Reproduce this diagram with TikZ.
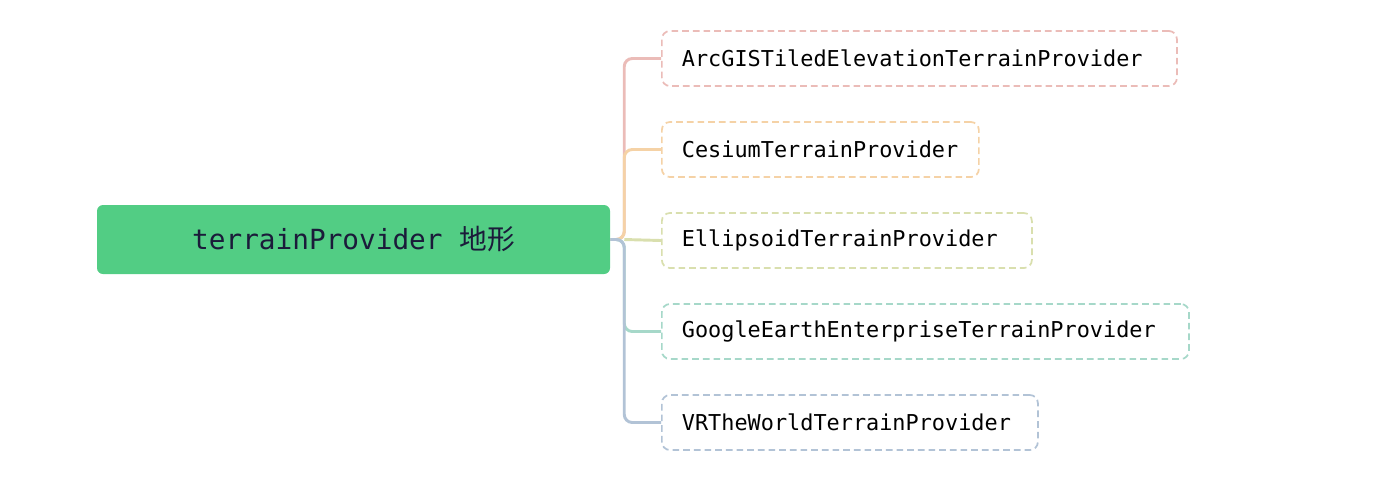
\documentclass[tikz,border=0pt]{standalone}
\usepackage{fontspec}
\setmonofont{DejaVu Sans Mono}
\newfontfamily\cjk{Noto Sans CJK SC}
\usetikzlibrary{positioning, calc}

\definecolor{rootgreen}{HTML}{52CD84}
\definecolor{rootink}{HTML}{1B1B3A}
\definecolor{cpink}{HTML}{EBBCB8}
\definecolor{corange}{HTML}{F5D2A6}
\definecolor{colive}{HTML}{D9DFAE}
\definecolor{cteal}{HTML}{A6D8C9}
\definecolor{cslate}{HTML}{B2C3D6}

\tikzset{
  rootbox/.style={fill=rootgreen, rounded corners=4.5pt, minimum width=384.75pt,
    minimum height=51.75pt, inner sep=0pt, text=rootink,
    font=\ttfamily\fontsize{20.8}{24}\selectfont},
  leafbox/.style 2 args={draw=#1, dashed, dash pattern=on 5pt off 3pt, line width=1.3pt,
    rounded corners=6pt, anchor=west, minimum height=41.25pt, inner xsep=15pt,
    text width=#2, align=left, text=black, font=\ttfamily\fontsize{16.4}{20}\selectfont},
  branch/.style={draw=#1, line width=2.2pt, rounded corners=6pt},
}

\begin{document}
\begin{tikzpicture}[x=0.75pt, y=-0.75pt]
  \useasboundingbox (0,0) rectangle (1387,487);

  % central topic
  \node[rootbox] (root) at (353.5, 239.5) {terrainProvider {\cjk 地形}};

  % provider boxes
  \node[leafbox={cpink}{356.25pt}]   (arcgis)  at (661, 58.5)  {ArcGISTiledElevationTerrainProvider};
  \node[leafbox={corange}{207.75pt}] (cesium)  at (661, 149.5) {CesiumTerrainProvider};
  \node[leafbox={colive}{247.5pt}]   (ellip)   at (661, 240.5) {EllipsoidTerrainProvider};
  \node[leafbox={cteal}{365.25pt}]   (google)  at (661, 331.5) {GoogleEarthEnterpriseTerrainProvider};
  \node[leafbox={cslate}{252pt}]     (vrworld) at (661, 422.5) {VRTheWorldTerrainProvider};

  % branches
  \draw[branch=cpink]   (root.east) -- ++(14,0) |- (arcgis.west);
  \draw[branch=corange] (root.east) -- ++(14,0) |- (cesium.west);
  \draw[branch=cteal]   (root.east) -- ++(14,0) |- (google.west);
  \draw[branch=cslate]  (root.east) -- ++(14,0) |- (vrworld.west);
  \draw[branch=colive]  ($(root.east)+(14,0)$) -- (ellip.west);
\end{tikzpicture}
\end{document}
